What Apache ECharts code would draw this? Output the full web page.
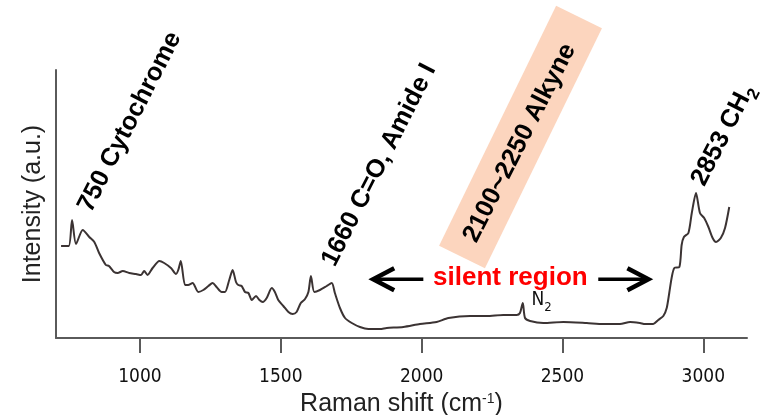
<!DOCTYPE html>
<html>
<head>
<meta charset="utf-8">
<script src="https://cdn.jsdelivr.net/npm/echarts@6/dist/echarts.min.js"></script>
<style>
html,body{margin:0;padding:0;background:#fff;}
#chart{width:760px;height:415px;}
</style>
</head>
<body>
<div id="chart"></div>
<script>
// ---- data ----
const ramanShift = [720,747,759,773,797,820,838,855,879,890,
  908,921,939,962,986,1004,1015,1027,1045,1069,
  1086,1110,1128,1136,1145,1160,1171,1187,1207,1225,
  1243,1258,1272,1290,1302,1317,1329,1341,1349,1361,
  1373,1385,1397,1412,1424,1436,1450,1468,1479,1491,
  1509,1527,1542,1556,1571,1586,1598,1607,1619,1639,
  1663,1681,1692,1710,1728,1752,1781,1811,1852,1876,
  1935,1994,2053,2095,2172,2231,2290,2337,2349,2359,
  2367,2385,2432,2503,2586,2645,2704,2740,2775,2793,
  2822,2840,2858,2870,2879,2888,2897,2915,2923,2931,
  2947,2959,2974,2988,3003,3018,3033,3045,3062,3077,3092];
const intensity = [92,92,118,94,108,101,96,85,73,72,
  66,65,67,65,64,63,67,63,70,77,
  75,70,64,68,77,53,53,55,46,48,
  52,55,51,46,46,58,68,56,53,52,
  46,45,38,42,38,36,40,50,46,38,
  32,26,24,26,35,39,46,62,46,48,
  52,55,45,30,20,15,11,9,9,10,
  11,14,16,20,22,22,23,23,25,35,
  20,17,15,16,15,14,14,16,15,14,
  14,18,22,30,45,61,70,71,93,101,
  105,125,145,125,120,111,100,96,100,110,131];
const xTickValues = [1000, 1500, 2000, 2500, 3000];
const xRange = [702, 3155];
const yRange = [0, 268];
const xAxisName = 'Raman shift (cm';
const xAxisNameSup = '-1';
const yAxisName = 'Intensity (a.u.)';

// annotation texts and their anchor points in data coordinates
const peakLabels = ['750 Cytochrome', '1660 C=O, Amide I', '2100~2250 Alkyne'];
const peakLabelAnchors = [[964, 216], [1849, 173], [2348, 195]];
const ch2Label = ['2853 CH', '2'];
const ch2Anchor = [3070, 203];
const alkyneBoxAnchor = [2351, 201];
const silentLabel = 'silent region';
const silentAnchor = [2315, 60];
const silentArrowLeft = [[1828, 58.7], [2006, 58.7]];   // [tip, tail]
const silentArrowRight = [[2805, 58.7], [2627, 58.7]];  // [tip, tail]
const n2Label = ['N', '2'];
const n2Anchor = [2390, 37.5];

// ---- fonts ----
const mainFont = "'Liberation Sans', Arial, Helvetica, sans-serif";
function fontAvailable(name) {
  const ctx = document.createElement('canvas').getContext('2d');
  const probe = '1000 2500 mmmWWiil';
  ctx.font = '40px monospace';
  const a = ctx.measureText(probe).width;
  ctx.font = '40px "' + name + '", monospace';
  const b = ctx.measureText(probe).width;
  return a !== b;
}
let narrowFont = mainFont, tickSize = 18, n2Size = 19, n2SubSize = 13;
if (fontAvailable('Liberation Sans Narrow')) {
  narrowFont = "'Liberation Sans Narrow', " + mainFont; tickSize = 21; n2Size = 20; n2SubSize = 14;
} else if (fontAvailable('DejaVu Sans Condensed')) {
  narrowFont = "'DejaVu Sans Condensed', " + mainFont; tickSize = 19; n2Size = 19; n2SubSize = 13;
}

const axisColor = '#5a5a5a';

const chart = echarts.init(document.getElementById('chart'), null, {renderer: 'canvas'});

const option = {
  animation: false,
  backgroundColor: '#fff',
  grid: {left: 56, right: 13, top: 70, bottom: 77, containLabel: false, outerBoundsMode: 'none'},
  xAxis: {
    type: 'value',
    min: xRange[0], max: xRange[1],
    axisLine: {show: true, onZero: false, lineStyle: {color: axisColor, width: 2}},
    axisTick: {show: true, inside: false, length: 15, customValues: xTickValues,
      lineStyle: {color: axisColor, width: 2}},
    axisLabel: {show: true, customValues: xTickValues, margin: 30,
      formatter: v => String(v),
      fontFamily: narrowFont, fontSize: tickSize, color: '#111'},
    splitLine: {show: false},
    name: '{a|' + xAxisName + '}{s|' + xAxisNameSup + '}{a|)}',
    nameLocation: 'middle',
    nameGap: 48,
    nameTextStyle: {
      fontFamily: mainFont, fontSize: 25, color: '#222',
      rich: {
        a: {fontFamily: mainFont, fontSize: 25, color: '#222'},
        s: {fontFamily: mainFont, fontSize: 14, color: '#222', verticalAlign: 'top'}
      }
    }
  },
  yAxis: {
    type: 'value',
    min: yRange[0], max: yRange[1],
    axisLine: {show: true, onZero: false, lineStyle: {color: axisColor, width: 2}},
    axisTick: {show: false},
    axisLabel: {show: false},
    splitLine: {show: false},
    name: yAxisName,
    nameLocation: 'middle',
    nameGap: 10,
    nameTextStyle: {fontFamily: mainFont, fontSize: 25, color: '#222'}
  },
  series: [{
    type: 'line',
    data: ramanShift.map((x, i) => [x, intensity[i]]),
    showSymbol: false,
    smooth: 0.25,
    silent: true,
    lineStyle: {color: '#3b3333', width: 2},
    z: 3
  }]
};
chart.setOption(option);

// ---- annotations anchored in data coordinates ----
const px = p => chart.convertToPixel({gridIndex: 0}, p);
const deg = Math.PI / 180;
const graphics = [];

const boxC = px(alkyneBoxAnchor);
graphics.push({
  type: 'rect', x: boxC[0], y: boxC[1], rotation: 64 * deg, z: 1,
  shape: {x: -133.5, y: -25.5, width: 267, height: 51},
  style: {fill: '#fcd5be'}
});

peakLabels.forEach((t, i) => {
  const c = px(peakLabelAnchors[i]);
  graphics.push({
    type: 'text', x: c[0], y: c[1], rotation: 63 * deg, z: 5,
    style: {text: t, align: 'center', verticalAlign: 'middle',
      fontFamily: mainFont, fontWeight: 'bold', fontSize: 25.5, fill: '#000'}
  });
});

const chC = px(ch2Anchor);
graphics.push({
  type: 'text', x: chC[0], y: chC[1], rotation: 63 * deg, z: 5,
  style: {
    text: '{m|' + ch2Label[0] + '}{s|' + ch2Label[1] + '}',
    align: 'center', verticalAlign: 'middle',
    fontFamily: mainFont, fontWeight: 'bold', fontSize: 25.5, fill: '#000',
    rich: {
      m: {fontFamily: mainFont, fontWeight: 'bold', fontSize: 25.5, fill: '#000'},
      s: {fontFamily: mainFont, fontWeight: 'bold', fontSize: 17, fill: '#000', verticalAlign: 'bottom', height: 8}
    }
  }
});

const sC = px(silentAnchor);
graphics.push({
  type: 'text', x: sC[0], y: sC[1], z: 5,
  style: {text: silentLabel, align: 'center', verticalAlign: 'middle',
    fontFamily: mainFont, fontWeight: 'bold', fontSize: 26, fill: '#ff0000'}
});

function arrow(pair) {
  const tip = px(pair[0]), tail = px(pair[1]);
  const dir = Math.sign(tail[0] - tip[0]);
  graphics.push({
    type: 'line', z: 5,
    shape: {x1: tip[0] + dir * 2, y1: tip[1], x2: tail[0], y2: tail[1]},
    style: {stroke: '#000', lineWidth: 3.5}
  });
  graphics.push({
    type: 'polyline', z: 5,
    shape: {points: [[tip[0] + dir * 21, tip[1] - 11], [tip[0], tip[1]], [tip[0] + dir * 21, tip[1] + 11]]},
    style: {stroke: '#000', lineWidth: 4.5, fill: null, lineJoin: 'miter'}
  });
}
arrow(silentArrowLeft);
arrow(silentArrowRight);

const nC = px(n2Anchor);
graphics.push({
  type: 'text', x: nC[0], y: nC[1], z: 5,
  style: {
    text: '{m|' + n2Label[0] + '}{s|' + n2Label[1] + '}',
    align: 'left', verticalAlign: 'middle',
    fontFamily: narrowFont, fontSize: n2Size, fill: '#111',
    rich: {
      m: {fontFamily: narrowFont, fontSize: n2Size, fill: '#111'},
      s: {fontFamily: narrowFont, fontSize: n2SubSize, fill: '#111', verticalAlign: 'bottom', height: 4}
    }
  }
});

chart.setOption({graphic: graphics});
</script>
</body>
</html>
